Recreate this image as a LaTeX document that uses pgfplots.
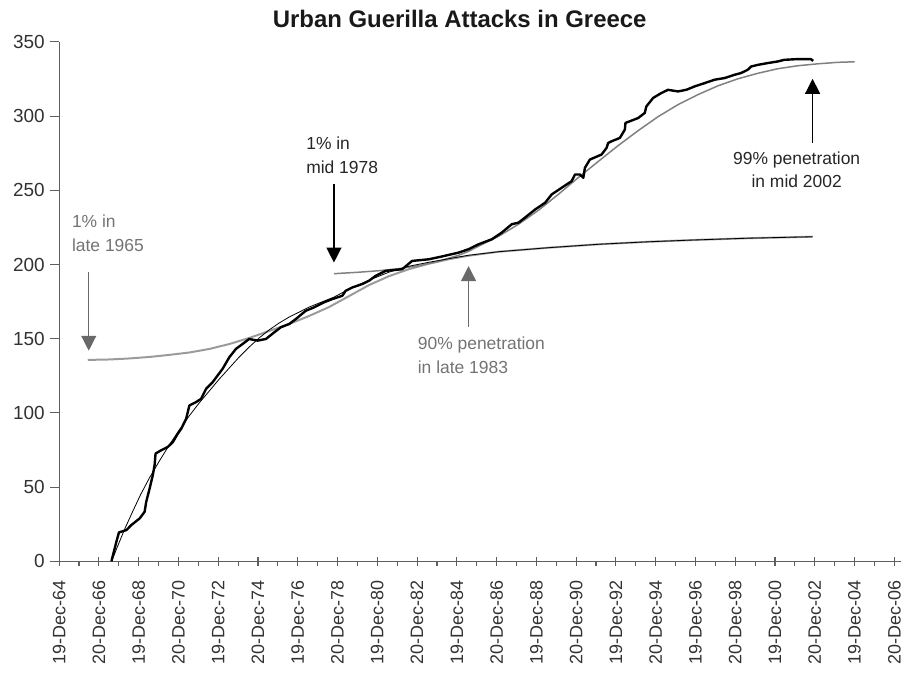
\documentclass[border=0pt]{standalone}
\usepackage{pgfplots}
\pgfplotsset{compat=1.18}
\usetikzlibrary{arrows.meta}
\usepackage{fontspec}
\setmainfont{Liberation Sans}
\definecolor{gline}{RGB}{155,155,155}
\definecolor{gtext}{RGB}{115,115,115}
\definecolor{garrow}{RGB}{105,105,105}
\definecolor{axgray}{RGB}{95,95,95}
\definecolor{ticktext}{RGB}{50,50,50}
\begin{document}
\begin{tikzpicture}
\begin{axis}[
  scale only axis, width=844.7pt, height=521pt,
  xmin=1964.97, xmax=2007.32, ymin=0, ymax=350,
  axis x line*=bottom, axis y line*=left,
  xtick pos=bottom, ytick pos=left,
  axis line style={-, axgray, line width=1.2pt},
  every tick/.style={axgray, line width=1.1pt},
  xtick={1964.97,1966.97,1968.97,1970.97,1972.97,1974.97,1976.97,1978.97,1980.97,1982.97,1984.97,1986.97,1988.97,1990.97,1992.97,1994.97,1996.97,1998.97,2000.97,2002.97,2004.97,2006.97},
  xticklabels={19-Dec-64,20-Dec-66,19-Dec-68,20-Dec-70,19-Dec-72,20-Dec-74,19-Dec-76,20-Dec-78,19-Dec-80,20-Dec-82,19-Dec-84,20-Dec-86,19-Dec-88,20-Dec-90,19-Dec-92,20-Dec-94,19-Dec-96,20-Dec-98,19-Dec-00,20-Dec-02,19-Dec-04,20-Dec-06},
  minor x tick num=1,
  ytick={0,50,...,350},
  major tick length=9pt, minor tick length=5pt,
  xtick align=center, ytick align=outside,
  minor x tick style={yshift=-2.5pt},
  xticklabel style={rotate=90, anchor=east, font=\fontsize{18}{20}\selectfont, text=ticktext},
  yticklabel style={font=\fontsize{19}{21}\selectfont, text=ticktext},
  xticklabel shift=11pt, yticklabel shift=2pt,
  /pgf/number format/assume math mode=true,
  clip=false,
]
% grey curve (from 1% in late 1965)
\addplot[gline, line width=2pt, line join=round] coordinates {
(1966.41,135.7) (1967.51,136.0) (1968.52,136.7) (1969.52,137.7) (1970.52,139.1)
(1971.52,140.7) (1972.53,143.1) (1973.53,146.4) (1974.53,150.5) (1975.53,155.2)
(1976.54,159.9) (1977.54,165.3) (1978.54,171.3) (1979.55,178.7) (1980.55,186.1)
(1981.55,192.1) (1982.55,196.8) (1983.56,200.5) (1984.56,203.5) (1985.56,205.9)
(1987.07,208.6) (1989.57,211.3) (1992.08,213.6) (1994.59,215.3) (1997.09,216.6)
(1999.60,217.7) (2002.86,218.7)
};
% second wave curve (from 1% in mid 1978)
\addplot[gray, line width=1.5pt, line join=round] coordinates {
(1978.79,193.8) (1980.05,194.8) (1981.05,195.8) (1982.05,197.2) (1983.05,199.2)
(1984.06,202.2) (1985.06,206.2) (1985.56,208.9) (1986.06,212.3) (1987.07,219.0)
(1988.07,227.1) (1989.07,236.5) (1990.07,247.2) (1991.08,258.6) (1992.08,269.4)
(1993.08,280.1) (1994.09,290.2) (1995.09,299.6) (1996.09,307.7) (1997.09,314.4)
(1998.10,320.4) (1999.10,325.1) (2000.10,328.8) (2001.11,331.9) (2002.11,333.9)
(2003.11,335.2) (2004.11,336.2) (2004.97,336.6)
};
% first wave fitted curve (thin black)
\addplot[black, line width=0.8pt, line join=round] coordinates {
(1967.61,0) (1967.91,10.1) (1968.26,21.5) (1968.67,33.6) (1969.07,45.0)
(1969.52,56.4) (1970.02,67.8) (1970.52,78.6) (1971.02,88.7) (1971.52,98.1)
(1972.02,106.8) (1972.53,114.9) (1973.03,122.9) (1973.53,130.3) (1974.03,137.7)
(1974.53,144.4) (1975.03,150.5) (1975.53,155.9) (1976.04,160.6) (1976.54,164.6)
(1977.04,167.9) (1977.54,171.3) (1978.04,174.0) (1978.79,178.0) (1979.55,183.4)
(1980.55,189.4) (1981.55,194.8) (1982.55,198.8) (1983.56,201.5) (1984.56,203.9)
(1985.56,206.2) (1987.07,208.6) (1989.57,211.3) (1992.08,213.6) (1994.59,215.3)
(1997.09,216.6) (1999.60,217.7) (2002.86,218.7)
};
% cumulative attacks (thick black)
\addplot[black, line width=2.4pt, line join=round] coordinates {
(1967.60,0) (1967.85,13.2) (1967.98,19.5) (1968.35,21.0) (1968.60,24.4)
(1969.02,28.9) (1969.27,33.4) (1969.35,40.1) (1969.52,49.0) (1969.68,58.0)
(1969.77,64.7) (1969.82,72.6) (1970.10,74.8) (1970.44,77.1) (1970.69,80.4)
(1970.94,86.0) (1971.11,89.3) (1971.36,96.1) (1971.52,105.0) (1971.86,107.3)
(1972.11,109.5) (1972.36,116.2) (1972.69,120.7) (1973.19,129.7) (1973.53,137.5)
(1973.86,143.1) (1974.53,149.8) (1974.95,148.7) (1975.37,149.8) (1975.79,154.3)
(1976.12,157.7) (1976.54,159.9) (1976.87,163.2) (1977.37,168.8) (1977.79,171.1)
(1978.29,174.5) (1978.71,176.7) (1979.21,178.9) (1979.38,182.3) (1979.71,184.5)
(1980.21,186.8) (1980.55,189.0) (1980.88,192.3) (1981.39,195.7) (1982.22,196.8)
(1982.72,202.4) (1983.56,203.5) (1984.22,205.4) (1985.06,208.0) (1985.56,210.3)
(1986.06,213.6) (1986.73,217.0) (1987.23,221.5) (1987.73,227.1) (1988.07,228.2)
(1988.40,231.6) (1988.91,237.1) (1989.41,241.6) (1989.74,247.2) (1990.24,251.7)
(1990.74,256.1) (1990.91,260.6) (1991.16,260.6) (1991.33,258.4) (1991.41,265.1)
(1991.66,270.7) (1992.25,274.1) (1992.50,278.6) (1992.58,281.9) (1992.75,283.0)
(1993.17,285.3) (1993.42,290.9) (1993.45,295.4) (1993.67,296.5) (1994.09,298.7)
(1994.42,302.1) (1994.50,306.5) (1994.84,312.2) (1995.25,315.5) (1995.59,317.7)
(1996.09,316.6) (1996.51,317.7) (1996.93,320.0) (1997.43,322.2) (1997.93,324.5)
(1998.43,325.6) (1998.93,327.8) (1999.26,329.0) (1999.60,331.2) (1999.77,333.4)
(2000.10,334.5) (2000.60,335.7) (2001.11,336.8) (2001.44,337.9) (2002.11,338.4)
(2002.77,338.4) (2002.89,337.2)
};
% annotations
\draw[garrow, line width=1.3pt, -{Triangle[width=15pt,length=15pt]}] (axis cs:1966.46,194.8) -- (axis cs:1966.46,141.9);
\draw[black, line width=1.3pt, -{Triangle[width=15pt,length=15pt]}] (axis cs:1978.79,253.9) -- (axis cs:1978.79,201.3);
\draw[garrow, line width=1.3pt, -{Triangle[width=15pt,length=15pt]}] (axis cs:1985.56,157.9) -- (axis cs:1985.56,198.9);
\draw[black, line width=1.3pt, -{Triangle[width=15pt,length=15pt]}] (axis cs:2002.86,282.1) -- (axis cs:2002.86,325.1);
\node[anchor=north west, align=left, inner sep=0pt, text=gtext, font=\fontsize{17.5}{24.5}\selectfont] at (axis cs:1965.61,233.8) {1\% in\\late 1965};
\node[anchor=north west, align=left, inner sep=0pt, text=black!85, font=\fontsize{17.5}{24}\selectfont] at (axis cs:1977.39,286.2) {1\% in\\mid 1978};
\node[anchor=north west, align=left, inner sep=0pt, text=gtext, font=\fontsize{17.5}{24}\selectfont] at (axis cs:1983.00,151.6) {90\% penetration\\in late 1983};
\node[anchor=north, align=center, inner sep=0pt, text=black!85, font=\fontsize{17.5}{23.5}\selectfont] at (axis cs:2002.06,276.3) {99\% penetration\\in mid 2002};
\node[font=\bfseries\fontsize{24}{28}\selectfont, text=black!90] at (rel axis cs:0.4756,1) [yshift=23pt] {Urban Guerilla Attacks in Greece};
\end{axis}
\path (current axis.south west) +(-59.3pt,-112pt) (current axis.north east) +(0pt,42pt);
\end{tikzpicture}
\end{document}
